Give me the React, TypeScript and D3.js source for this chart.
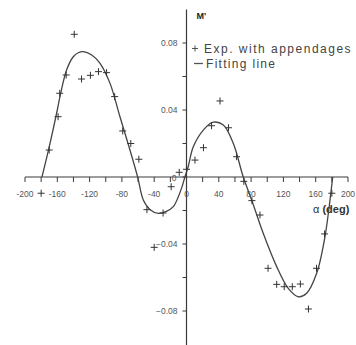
import React from "react";
import * as d3 from "d3";

// Measured moment coefficient M' against angle α (degrees)
const expAlpha = [
  -180, -170, -159, -157, -149, -139, -130, -119, -109, -99, -89, -79, -69, -59,
  -49, -40, -29, -19, -9, 0, 10.5, 21, 31, 41.5, 52, 62, 71, 81, 91, 101, 111.7,
  121, 131, 141, 151, 161, 171, 180,
];
const expM = [
  -0.0097, 0.0161, 0.036, 0.05, 0.0609, 0.0852, 0.0585, 0.0607, 0.0629, 0.0623,
  0.048, 0.0275, 0.02, 0.0106, -0.0195, -0.042, -0.0215, -0.0058, 0.0028,
  0.0046, 0.0101, 0.0175, 0.0306, 0.0454, 0.0294, 0.0121, -0.0026, -0.0141,
  -0.0227, -0.0545, -0.0641, -0.0655, -0.0655, -0.0639, -0.0788, -0.0545,
  -0.034, -0.0097,
];

// Fitted curve, sampled along α
const fitAlpha = [
  -179, -170, -160, -156.7, -148.4, -140.2, -134, -127.8, -117.4, -107.1, -94.7,
  -82.4, -70, -60.5, -53.5, -45, -35, -25, -16.3, -6, -2, 2, 8.4, 20.8, 33,
  45.6, 58, 70.3, 80.7, 95, 111.7, 126, 138.5, 148.8, 161.2, 171.5, 181,
];
const fitM = [
  0, 0.018, 0.04, 0.048, 0.064, 0.0718, 0.0742, 0.0748, 0.0728, 0.0679, 0.0559,
  0.036, 0.0161, 0, -0.0137, -0.0195, -0.0217, -0.0205, -0.0177, -0.0065, 0,
  0.006, 0.018, 0.028, 0.0327, 0.031, 0.02, 0, -0.0137, -0.0336, -0.0535,
  -0.0665, -0.0715, -0.0694, -0.0575, -0.0356, 0,
];

const xTickValues = d3.range(-200, 201, 20);
const xTickLabels = [-200, -160, -120, -80, -40, 0, 40, 80, 120, 160, 200];
const yTickValues = [-0.08, -0.06, -0.04, -0.02, 0, 0.02, 0.04, 0.06, 0.08];
const yTickLabels = [-0.08, -0.04, 0.04, 0.08];

const legendLabels = ["Exp. with appendages", "Fitting line"];

const W = 356;
const H = 345;
const FONT = "'Liberation Sans', Arial, sans-serif";
const INK = "#3a3a3a";

export default function App() {
  const x = d3.scaleLinear().domain([-200, 200]).range([25, 348]);
  const y = d3.scaleLinear().domain([-0.1, 0.1]).range([344.5, 9.5]);

  const fitPts = fitAlpha.map((a, i) => [a, fitM[i]] as [number, number]);
  const line = d3
    .line<[number, number]>()
    .x((d) => x(d[0]))
    .y((d) => y(d[1]))
    .curve(d3.curveCatmullRom.alpha(0.5));

  const x0 = x(0);
  const y0 = y(0);
  const cross = 3.5;

  return (
    <svg
      width={W}
      height={H}
      style={{ position: "absolute", left: 0, top: 0, background: "#fff" }}
      fontFamily={FONT}
    >
      {/* axes */}
      <line x1={x(-200)} x2={x(200)} y1={y0} y2={y0} stroke={INK} strokeWidth={1.2} />
      <line x1={x0} x2={x0} y1={y(0.1)} y2={H} stroke={INK} strokeWidth={1.2} />

      {xTickValues.map((v) => (
        <line key={"xt" + v} x1={x(v)} x2={x(v)} y1={y0} y2={y0 + 5} stroke={INK} strokeWidth={1} />
      ))}
      {xTickLabels.map((v) => (
        <text
          key={"xl" + v}
          x={x(v)}
          y={y0 + 20}
          textAnchor="middle"
          fontSize={8.5}
          fill="#555"
        >
          {v}
        </text>
      ))}

      {yTickValues.map((v) => (
        <line key={"yt" + v} x1={x0 - 4} x2={x0} y1={y(v)} y2={y(v)} stroke={INK} strokeWidth={1} />
      ))}
      {yTickLabels.map((v) => (
        <text
          key={"yl" + v}
          x={x0 - 9}
          y={y(v) + 3}
          textAnchor="end"
          fontSize={8.5}
          fill="#555"
        >
          {d3.format(".2f")(v)}
        </text>
      ))}
      <text x={x0 - 10} y={y0 + 4} textAnchor="end" fontSize={8.5} fill="#555">
        0
      </text>

      {/* axis titles */}
      <text x={x0 + 10} y={19} fontSize={9} fontWeight="bold" fill="#222">
        M'
      </text>
      <text x={313} y={213} fontSize={11} fill="#333">
        α <tspan fontWeight="bold">(deg)</tspan>
      </text>

      {/* fitted curve */}
      <path d={line(fitPts) ?? ""} fill="none" stroke="#444" strokeWidth={1.3} />

      {/* experimental points */}
      {expAlpha.map((a, i) => {
        const px = x(a);
        const py = y(expM[i]);
        return (
          <g key={"p" + i} stroke="#333" strokeWidth={1}>
            <line x1={px - cross} x2={px + cross} y1={py} y2={py} />
            <line x1={px} x2={px} y1={py - cross} y2={py + cross} />
          </g>
        );
      })}

      {/* legend */}
      <g stroke="#555" strokeWidth={1}>
        <line x1={195 - 3} x2={195 + 3} y1={48.5} y2={48.5} />
        <line x1={195} x2={195} y1={45.5} y2={51.5} />
        <line x1={194} x2={203} y1={63.5} y2={63.5} strokeWidth={1.3} />
      </g>
      <text x={204} y={53} fontSize={12} letterSpacing={1.5} fill="#444">
        {legendLabels[0]}
      </text>
      <text x={206} y={68} fontSize={12} letterSpacing={1.3} fill="#444">
        {legendLabels[1]}
      </text>
    </svg>
  );
}
